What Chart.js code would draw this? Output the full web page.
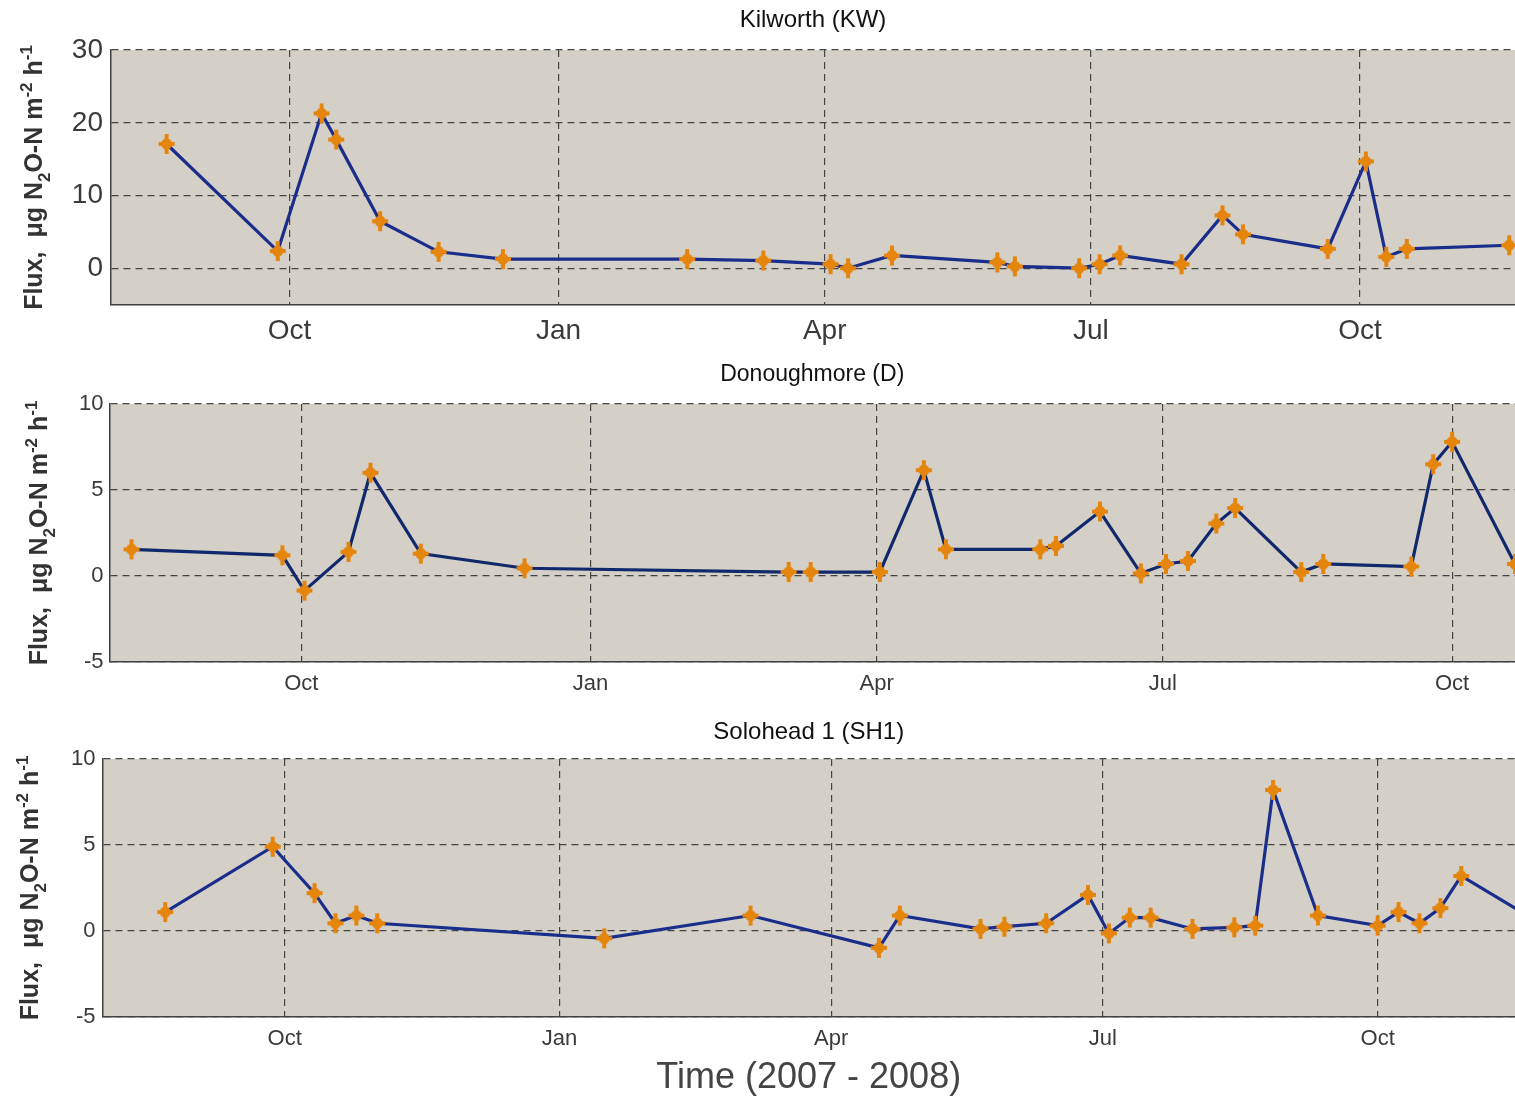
<!DOCTYPE html>
<html>
<head>
<meta charset="utf-8">
<title>N2O flux 2007 - 2008</title>
<script src="https://cdn.jsdelivr.net/npm/chart.js@4.4.1/dist/chart.umd.min.js"></script>
<style>
  html, body { margin: 0; padding: 0; background: #ffffff; overflow: hidden; }
  .panel { position: absolute; left: 0; width: 1515px; }
</style>
</head>
<body>
<div class="panel" style="top:0;height:360px"><canvas id="kwChart"></canvas></div>
<div class="panel" style="top:360px;height:355px"><canvas id="dChart"></canvas></div>
<div class="panel" style="top:715px;height:383px"><canvas id="shChart"></canvas></div>
<script>
// Kilworth (KW)
const kwDates = ['2007-08-20', '2007-09-27', '2007-10-12', '2007-10-17', '2007-11-01', '2007-11-21',
    '2007-12-13', '2008-02-14', '2008-03-11', '2008-04-03', '2008-04-09', '2008-04-24', '2008-05-30',
    '2008-06-05', '2008-06-27', '2008-07-04', '2008-07-11', '2008-08-01', '2008-08-15', '2008-08-22',
    '2008-09-20', '2008-10-03', '2008-10-10', '2008-10-17', '2008-11-21'];
const kwFlux = [17.1, 2.4, 21.3, 17.7, 6.5, 2.3, 1.3, 1.3, 1.1, 0.6, 0.05, 1.8, 0.85,
    0.3, 0.05, 0.6, 1.8, 0.6, 7.3, 4.7, 2.7, 14.7, 1.6, 2.7, 3.2];

// Donoughmore (D)
const dDates = ['2007-08-08', '2007-09-25', '2007-10-02', '2007-10-16', '2007-10-23', '2007-11-08',
    '2007-12-11', '2008-03-04', '2008-03-11', '2008-04-02', '2008-04-16', '2008-04-23', '2008-05-23',
    '2008-05-28', '2008-06-11', '2008-06-24', '2008-07-02', '2008-07-09', '2008-07-18', '2008-07-24',
    '2008-08-14', '2008-08-21', '2008-09-18', '2008-09-25', '2008-10-01', '2008-10-21'];
const dFlux = [1.55, 1.2, -0.85, 1.4, 6.0, 1.3, 0.45, 0.23, 0.23, 0.23, 6.15, 1.55, 1.55,
    1.75, 3.75, 0.15, 0.7, 0.87, 3.05, 3.95, 0.23, 0.7, 0.55, 6.5, 7.8, 0.7];

// Solohead 1 (SH1)
const shDates = ['2007-08-22', '2007-09-27', '2007-10-11', '2007-10-18', '2007-10-25', '2007-11-01',
    '2008-01-16', '2008-03-05', '2008-04-17', '2008-04-24', '2008-05-21', '2008-05-29', '2008-06-12',
    '2008-06-26', '2008-07-03', '2008-07-10', '2008-07-17', '2008-07-31', '2008-08-14', '2008-08-21',
    '2008-08-27', '2008-09-11', '2008-10-01', '2008-10-08', '2008-10-15', '2008-10-22', '2008-10-29',
    '2008-11-26'];
const shFlux = [1.1, 4.9, 2.2, 0.45, 0.9, 0.45, -0.43, 0.9, -0.98, 0.9, 0.12, 0.25, 0.45,
    2.1, -0.14, 0.78, 0.78, 0.12, 0.21, 0.31, 8.2, 0.9, 0.31, 1.1, 0.45, 1.33, 3.2, 0.3];

// axis ticks
const monthTickDates = ['2007-10-01', '2008-01-01', '2008-04-01', '2008-07-01', '2008-10-01'];
const monthTickLabels = ['Oct', 'Jan', 'Apr', 'Jul', 'Oct'];
const kwYTicks = [0, 10, 20, 30];
const dYTicks = [-5, 0, 5, 10];
const shYTicks = [-5, 0, 5, 10];

const START = Date.UTC(2007, 7, 1);
const toDay = s => Math.round((Date.parse(s + 'T00:00:00Z') - START) / 86400000);
const monthTickDays = monthTickDates.map(toDay);

const FONT = '"Liberation Sans", Arial, sans-serif';

// orange four-point star marker
const makeStar = () => {
    const c = document.createElement('canvas');
    c.width = 20;
    c.height = 22;
    const g = c.getContext('2d');
    g.fillStyle = '#e5850c';
    g.fillRect(8, 1, 4, 20);
    g.fillRect(2, 9, 16, 4);
    g.beginPath();
    g.moveTo(10, 3); g.lineTo(16, 11); g.lineTo(10, 19); g.lineTo(4, 11);
    g.closePath();
    g.fill();
    g.beginPath();
    g.arc(10, 11, 5.5, 0, Math.PI * 2);
    g.fill();
    return c;
};
const star = makeStar();

// rotated y title with sub/superscripts
const drawYTitle = (ctx, x, cy, size) => {
    const parts = [['Flux,  \u03bcg N', 0], ['2', 1], ['O-N m', 0], ['-2', -1], [' h', 0], ['-1', -1]];
    const big = `bold ${size}px ${FONT}`;
    const small = `bold ${Math.round(size * 0.68)}px ${FONT}`;
    let total = 0;
    parts.forEach(([t, k]) => { ctx.font = k ? small : big; total += ctx.measureText(t).width; });
    ctx.save();
    ctx.translate(x, cy);
    ctx.rotate(-Math.PI / 2);
    ctx.fillStyle = '#333333';
    ctx.textAlign = 'left';
    ctx.textBaseline = 'alphabetic';
    let pos = -total / 2;
    parts.forEach(([t, k]) => {
        ctx.font = k ? small : big;
        const dy = k === 1 ? size * 0.3 : (k === -1 ? -size * 0.42 : 0);
        ctx.fillText(t, pos, dy);
        pos += ctx.measureText(t).width;
    });
    ctx.restore();
};

const panelDecor = {
    id: 'panelDecor',
    beforeDraw(chart, args, opts) {
        const { ctx, chartArea: a } = chart;
        ctx.save();
        ctx.fillStyle = '#d4d0c8';
        ctx.fillRect(a.left, a.top, a.right - a.left, a.bottom - a.top);
        ctx.restore();
    },
    afterDraw(chart, args, opts) {
        const { ctx, chartArea: a } = chart;
        const cx = (a.left + a.right) / 2;
        ctx.save();
        ctx.fillStyle = '#111111';
        ctx.font = `${opts.titleSize}px ${FONT}`;
        ctx.textAlign = 'center';
        ctx.textBaseline = 'middle';
        ctx.fillText(opts.title, cx, opts.titleY);
        if (opts.xTitle) {
            ctx.fillStyle = '#444444';
            ctx.font = `36px ${FONT}`;
            ctx.fillText(opts.xTitle, cx, opts.xTitleY);
        }
        ctx.restore();
        drawYTitle(ctx, opts.yTitleX, (a.top + a.bottom) / 2, 25);
    }
};

const makeChart = (id, p) => {
    const ctx = document.getElementById(id).getContext('2d');
    return new Chart(ctx, {
        type: 'line',
        data: {
            datasets: [{
                data: p.dates.map((d, i) => ({ x: toDay(d), y: p.flux[i] })),
                borderColor: p.lineColor,
                borderWidth: 3.2,
                tension: 0,
                fill: false,
                pointStyle: star,
                pointRadius: 8,
                pointHoverRadius: 8
            }]
        },
        options: {
            responsive: true,
            maintainAspectRatio: false,
            animation: false,
            events: [],
            layout: { autoPadding: false, padding: { left: 0, right: 0, top: p.top, bottom: 0 } },
            plugins: {
                legend: { display: false },
                tooltip: { enabled: false },
                panelDecor: {
                    title: p.title, titleY: p.titleY, titleSize: p.titleSize,
                    yTitleX: p.yTitleX, xTitle: p.xTitle, xTitleY: p.xTitleY
                }
            },
            scales: {
                x: {
                    type: 'linear',
                    min: 0,
                    max: p.xMax,
                    afterBuildTicks: s => { s.ticks = monthTickDays.map(v => ({ value: v })); },
                    afterFit: s => { s.height = p.bottomH; },
                    grid: { color: '#454545', lineWidth: 1.2, drawTicks: false },
                    border: { display: true, color: '#404040', width: 1.5, dash: [7, 5] },
                    ticks: {
                        padding: 9,
                        color: '#3a3a3a',
                        font: { family: FONT, size: p.tickSize },
                        maxRotation: 0,
                        autoSkip: false,
                        callback: v => monthTickLabels[monthTickDays.indexOf(v)]
                    }
                },
                y: {
                    min: p.yTicks[0] < 0 ? p.yTicks[0] : -5,
                    max: p.yTicks[p.yTicks.length - 1],
                    afterBuildTicks: s => { s.ticks = p.yTicks.map(v => ({ value: v })); },
                    afterFit: s => { s.width = p.left; },
                    grid: { color: '#454545', lineWidth: 1.2, drawTicks: false },
                    border: { display: true, color: '#404040', width: 1.5, dash: [7, 5] },
                    ticks: {
                        padding: p.yPad,
                        color: '#3a3a3a',
                        font: { family: FONT, size: p.tickSize }
                    }
                }
            }
        },
        plugins: [panelDecor]
    });
};

document.addEventListener('DOMContentLoaded', () => {
    makeChart('kwChart', {
        dates: kwDates, flux: kwFlux, lineColor: '#1b2d8a', yTicks: kwYTicks,
        xMax: 480, left: 111, top: 50, bottomH: 55, tickSize: 28, yPad: 8,
        title: 'Kilworth (KW)', titleY: 20, titleSize: 24, yTitleX: 42
    });
    makeChart('dChart', {
        dates: dDates, flux: dFlux, lineColor: '#11296c', yTicks: dYTicks,
        xMax: 447, left: 109.5, top: 44, bottomH: 53, tickSize: 22, yPad: 6,
        title: 'Donoughmore (D)', titleY: 15, titleSize: 23, yTitleX: 47
    });
    makeChart('shChart', {
        dates: shDates, flux: shFlux, lineColor: '#1b2d8a', yTicks: shYTicks,
        xMax: 473, left: 102.5, top: 44, bottomH: 81, tickSize: 22, yPad: 7,
        title: 'Solohead 1 (SH1)', titleY: 17, titleSize: 24, yTitleX: 38,
        xTitle: 'Time (2007 - 2008)', xTitleY: 363
    });
});
</script>
</body>
</html>
